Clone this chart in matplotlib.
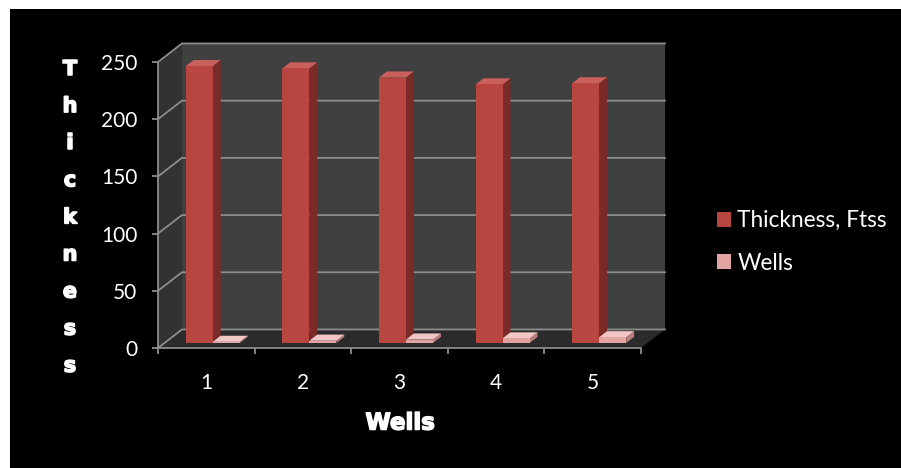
import matplotlib.pyplot as plt
import matplotlib.patheffects as pe
from matplotlib.patches import Polygon, Rectangle, Patch

# chart data
wells = [1, 2, 3, 4, 5]
thickness = [242, 240, 232, 226, 227]
well_series = [1, 2, 3, 4, 5]
series_names = ["Thickness, Ftss", "Wells"]
y_ticks = [0, 50, 100, 150, 200, 250]
y_label = "Thickness"
x_label = "Wells"

# pseudo-3D box: how far the back plane sits from the front plane (data units)
DX, DV = 0.248, 16.2
BAR_W = 0.28
D0, D1 = 0.27, 0.60

RED = dict(front="#b8453f", side="#7a2a27", top="#c9605b")
PINK = dict(front="#e3a3a2", side="#b87c7b", top="#f2c6c5")

tick_font = "Lato"
grid_c = "#8c8c8c"
heavy = [pe.withStroke(linewidth=1.1, foreground="white")]


def proj(x, v, d):
    return (x + d * DX, v + d * DV)


def poly(ax, pts, color, z):
    ax.add_patch(Polygon([proj(*p) for p in pts], closed=True, facecolor=color,
                         edgecolor="none", lw=0, clip_on=False, zorder=z))


def bar3d(ax, x0, x1, h, colors, z):
    poly(ax, [(x1, 0, D0), (x1, 0, D1), (x1, h, D1), (x1, h, D0)], colors["side"], z)
    poly(ax, [(x0, h, D0), (x1, h, D0), (x1, h, D1), (x0, h, D1)], colors["top"], z)
    poly(ax, [(x0, 0, D0), (x1, 0, D0), (x1, h, D0), (x0, h, D0)], colors["front"], z)


fig = plt.figure(figsize=(9.01, 4.68), dpi=100, facecolor="white")
fig.patches.append(Rectangle((10 / 901, 0), 1, 1 - 9 / 468, transform=fig.transFigure,
                             facecolor="black", edgecolor="none", zorder=-10))

ax = fig.add_axes([158 / 901, 120 / 468, 483 / 901, 286 / 468])
ax.patch.set_visible(False)
xmin, xmax = 0.5, len(wells) + 0.5
ymax = y_ticks[-1]
ax.set_xlim(xmin, xmax)
ax.set_ylim(0, ymax)

# walls and floor
poly(ax, [(xmin, 0, 1), (xmax, 0, 1), (xmax, ymax, 1), (xmin, ymax, 1)], "#404040", 1)
poly(ax, [(xmin, 0, 0), (xmin, 0, 1), (xmin, ymax, 1), (xmin, ymax, 0)], "#323232", 1)
poly(ax, [(xmin, 0, 0), (xmax, 0, 0), (xmax, 0, 1), (xmin, 0, 1)], "#2b2b2b", 1.5)

# gridlines running along the side wall and the back wall
for v in y_ticks:
    pts = [proj(xmin, v, 0), proj(xmin, v, 1), proj(xmax, v, 1)]
    ax.plot([p[0] for p in pts], [p[1] for p in pts], color=grid_c, lw=1.3,
            clip_on=False, zorder=2, solid_joinstyle="miter")

# columns
for i, w in enumerate(wells):
    bar3d(ax, w - BAR_W, w, thickness[i], RED, 3 + i * 0.1)
    bar3d(ax, w, w + BAR_W, well_series[i], PINK, 3.05 + i * 0.1)

# axes styling
for s in ["top", "right"]:
    ax.spines[s].set_visible(False)
for s in ["left", "bottom"]:
    ax.spines[s].set_color(grid_c)
    ax.spines[s].set_linewidth(1.3)
    ax.spines[s].set_zorder(5)

ax.set_yticks(y_ticks)
ax.set_yticklabels([str(t) for t in y_ticks])
ax.set_xticks([w - 0.5 for w in wells] + [wells[-1] + 0.5])
ax.set_xticklabels([])
ax.set_xticks(wells, minor=True)
ax.set_xticklabels([str(w) for w in wells], minor=True)
ax.tick_params(axis="y", colors=grid_c, length=4, width=1.3, pad=11,
               labelcolor="white", labelsize=15)
ax.tick_params(axis="x", which="major", colors=grid_c, length=4, width=1.3)
ax.tick_params(axis="x", which="minor", length=0, pad=18, labelcolor="white",
               labelsize=15)
for lab in ax.get_yticklabels() + ax.get_xticklabels(minor=True):
    lab.set_fontfamily(tick_font)

# axis titles: the y title is stacked one letter per line
for i, ch in enumerate(y_label):
    fig.text(70 / 901, 1 - (75 + i * 37.1) / 468, ch, color="white", fontsize=15,
             fontweight="bold", ha="center", va="baseline", family="DejaVu Sans",
             path_effects=heavy)
fig.text(400 / 901, 1 - 423 / 468, x_label, color="white", fontsize=16.5,
         fontweight="bold", ha="center", va="center", family="DejaVu Sans",
         path_effects=heavy)

handles = [Patch(facecolor=RED["front"], edgecolor="none"),
           Patch(facecolor=PINK["front"], edgecolor="none")]
fig.legend(handles, series_names, loc="center left",
           bbox_to_anchor=(717 / 901, 1 - 242 / 468), frameon=False,
           prop={"family": tick_font, "size": 16.3}, handlelength=0.62,
           handleheight=0.62, handletextpad=0.28, labelspacing=0.95,
           labelcolor="white", borderaxespad=0, borderpad=0)

fig.savefig("out.png", dpi=100, facecolor=fig.get_facecolor())
